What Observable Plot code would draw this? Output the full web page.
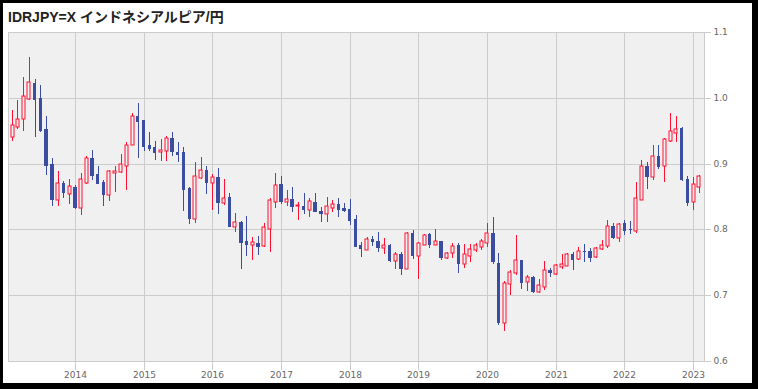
<!DOCTYPE html>
<html><head><meta charset="utf-8">
<script src="https://cdn.jsdelivr.net/npm/d3@7"></script>
<script src="https://cdn.jsdelivr.net/npm/@observablehq/plot@0.6"></script>
<style>
body{margin:0;background:#fff;}
#frame{position:absolute;left:0;top:0;width:758px;height:389px;box-sizing:border-box;border:3px solid #000;border-right-width:6px;border-bottom-width:6px;background:#fff;}
#title{position:absolute;left:8px;top:10px;font:bold 14px "Liberation Sans","Noto Sans CJK JP",sans-serif;line-height:14px;color:#222;white-space:nowrap;}
#chart{position:absolute;left:0;top:0;}
</style></head><body>
<div id="frame"></div>
<div id="title">IDRJPY=X インドネシアルピア/円</div>
<div id="chart"></div>
<script>
const title = "IDRJPY=X インドネシアルピア/円";
const months = [
"2013-02","2013-03","2013-04","2013-05","2013-06","2013-07","2013-08","2013-09","2013-10","2013-11","2013-12",
"2014-01","2014-02","2014-03","2014-04","2014-05","2014-06","2014-07","2014-08","2014-09","2014-10","2014-11","2014-12",
"2015-01","2015-02","2015-03","2015-04","2015-05","2015-06","2015-07","2015-08","2015-09","2015-10","2015-11","2015-12",
"2016-01","2016-02","2016-03","2016-04","2016-05","2016-06","2016-07","2016-08","2016-09","2016-10","2016-11","2016-12",
"2017-01","2017-02","2017-03","2017-04","2017-05","2017-06","2017-07","2017-08","2017-09","2017-10","2017-11","2017-12",
"2018-01","2018-02","2018-03","2018-04","2018-05","2018-06","2018-07","2018-08","2018-09","2018-10","2018-11","2018-12",
"2019-01","2019-02","2019-03","2019-04","2019-05","2019-06","2019-07","2019-08","2019-09","2019-10","2019-11","2019-12",
"2020-01","2020-02","2020-03","2020-04","2020-05","2020-06","2020-07","2020-08","2020-09","2020-10","2020-11","2020-12",
"2021-01","2021-02","2021-03","2021-04","2021-05","2021-06","2021-07","2021-08","2021-09","2021-10","2021-11","2021-12",
"2022-01","2022-02","2022-03","2022-04","2022-05","2022-06","2022-07","2022-08","2022-09","2022-10","2022-11","2022-12",
"2023-01","2023-02"];
const open = [
.940,.956,.968,.998,1.023,.999,.952,.900,.844,.871,.854,
.865,.833,.871,.908,.884,.872,.853,.886,.887,.896,.929,.972,
.966,.928,.925,.917,.919,.939,.918,.918,.863,.816,.878,.890,
.871,.880,.840,.849,.804,.811,.783,.777,.779,.775,.801,.842,
.869,.842,.846,.836,.835,.830,.841,.828,.823,.833,.838,.832,
.831,.816,.776,.769,.786,.783,.771,.776,.752,.763,.740,.794,
.760,.777,.793,.776,.782,.757,.764,.776,.747,.759,.768,.774,
.780,.794,.749,.657,.717,.734,.753,.720,.727,.705,.713,.738,
.732,.743,.745,.762,.755,.767,.767,.758,.770,.775,.805,.787,
.809,.800,.797,.845,.896,.880,.911,.896,.935,.947,.954,.877,
.841,.865];
const high = [
.981,.997,1.031,1.062,1.028,1.020,.972,.908,.888,.873,.876,
.867,.886,.911,.920,.896,.875,.890,.896,.914,.933,.977,.992,
.967,.948,.934,.937,.942,.948,.933,.925,.865,.902,.910,.897,
.884,.893,.876,.855,.825,.813,.820,.788,.790,.810,.848,.886,
.881,.860,.864,.841,.856,.847,.855,.834,.849,.845,.847,.840,
.846,.822,.781,.789,.790,.796,.787,.778,.765,.765,.796,.799,
.781,.793,.794,.801,.782,.765,.779,.780,.778,.778,.780,.786,
.809,.819,.764,.722,.738,.791,.754,.730,.729,.725,.752,.741,
.748,.762,.764,.765,.773,.778,.771,.773,.784,.815,.809,.809,
.814,.813,.872,.906,.903,.929,.929,.939,.977,.972,.955,.881,
.880,.882];
const low = [
.935,.953,.949,.996,.941,.948,.882,.835,.835,.848,.839,
.831,.822,.869,.875,.869,.835,.843,.857,.885,.860,.928,.909,
.919,.919,.905,.904,.904,.912,.903,.828,.808,.810,.876,.854,
.829,.823,.837,.804,.796,.740,.759,.753,.761,.774,.766,.833,
.838,.836,.827,.815,.824,.819,.826,.812,.812,.827,.819,.827,
.807,.774,.758,.768,.775,.765,.763,.750,.740,.731,.740,.755,
.725,.777,.771,.776,.754,.755,.757,.733,.742,.751,.765,.768,
.773,.748,.654,.646,.701,.731,.710,.706,.703,.704,.708,.728,
.731,.740,.744,.739,.753,.751,.751,.757,.769,.772,.786,.781,
.791,.793,.795,.845,.862,.875,.892,.872,.933,.933,.873,.836,
.830,.855];
const close = [
.958,.968,1.002,1.024,.996,.949,.896,.844,.871,.855,.866,
.833,.876,.908,.881,.869,.852,.888,.889,.900,.929,.972,.963,
.925,.922,.916,.920,.939,.917,.913,.860,.816,.881,.890,.871,
.879,.840,.848,.804,.811,.780,.777,.781,.773,.803,.844,.867,
.842,.846,.834,.837,.830,.843,.826,.823,.835,.838,.830,.828,
.813,.774,.770,.786,.781,.771,.776,.752,.763,.740,.794,.760,
.779,.792,.777,.782,.757,.764,.775,.748,.762,.770,.776,.782,
.794,.751,.657,.718,.736,.753,.719,.727,.705,.715,.738,.733,
.746,.747,.762,.754,.767,.766,.757,.771,.777,.805,.787,.808,
.798,.799,.847,.896,.880,.911,.895,.937,.950,.953,.875,.840,
.869,.881];
const yTicks = [0.6, 0.7, 0.8, 0.9, 1.0, 1.1];
const xTickYears = ["2014","2015","2016","2017","2018","2019","2020","2021","2022","2023"];

const UP = "#ff1030", DOWN = "#3b4da0", BG = "#f0f0f0", GRID = "#cccccc";
const parse = d3.utcParse("%Y-%m");
const data = months.map((m, i) => ({
  date: parse(m), open: open[i], high: high[i], low: low[i], close: close[i],
  up: close[i] >= open[i]
}));
const xTicks = xTickYears.map(y => d3.utcParse("%Y")(y));
const ups = data.filter(d => d.up), downs = data.filter(d => !d.up);

const chart = Plot.plot({
  width: 758, height: 389,
  marginTop: 32, marginBottom: 28, marginLeft: 8, marginRight: 54,
  style: {background: "transparent", fontFamily: "DejaVu Sans, sans-serif", fontSize: "9px", color: "#666"},
  x: {type: "utc", round: true, domain: [new Date(Date.UTC(2013,0,10)), new Date(Date.UTC(2023,1,28))]},
  y: {domain: [0.6, 1.1], round: true},
  marks: [
    Plot.frame({fill: BG, stroke: null}),
    Plot.gridX(xTicks, {stroke: GRID, strokeOpacity: 1}),
    Plot.gridY(yTicks, {stroke: GRID, strokeOpacity: 1}),
    Plot.frame({stroke: GRID, strokeOpacity: 1}),
    Plot.axisX({ticks: xTicks, tickFormat: d3.utcFormat("%Y"), tickSize: 9, tickPadding: 1, stroke: GRID, strokeOpacity: 1, fill: "#666", label: null}),
    Plot.axisY({anchor: "right", ticks: yTicks, tickFormat: d3.format(".1f"), tickSize: 6, tickPadding: 3, stroke: GRID, strokeOpacity: 1, fill: "#666", label: null}),
    Plot.ruleX(data, {x: "date", y1: "low", y2: "high", stroke: d => d.up ? UP : DOWN, strokeWidth: 1}),
    Plot.rect(downs, {x1: d => d3.utcDay.offset(d.date, -9), x2: d => d3.utcDay.offset(d.date, 9), y1: "open", y2: "close", fill: DOWN}),
    Plot.rect(ups, {x1: d => d3.utcDay.offset(d.date, -8), x2: d => d3.utcDay.offset(d.date, 8), y1: "open", y2: "close", fill: BG, stroke: UP, strokeWidth: 1})
  ]
});
document.getElementById("chart").appendChild(chart);
</script>
</body></html>
